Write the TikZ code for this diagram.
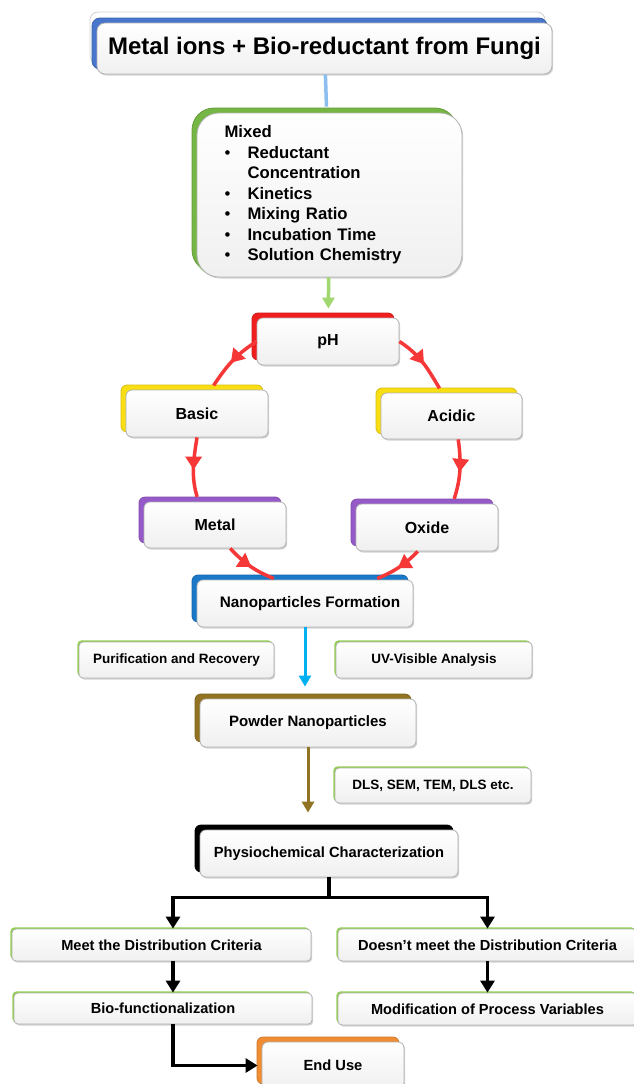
\documentclass[tikz,border=0pt]{standalone}
\usepackage{fontspec}
\setmainfont{Liberation Sans}
\usetikzlibrary{positioning,arrows.meta,shadows,decorations.markings}

\definecolor{titleblue}{RGB}{72,118,204}
\definecolor{linkblue}{RGB}{141,190,240}
\definecolor{mixgreen}{RGB}{118,182,68}
\definecolor{linkgreen}{RGB}{160,215,110}
\definecolor{phred}{RGB}{240,30,30}
\definecolor{arcred}{RGB}{245,55,55}
\definecolor{baseyellow}{RGB}{250,222,20}
\definecolor{oxpurple}{RGB}{150,90,200}
\definecolor{nfblue}{RGB}{25,120,200}
\definecolor{skyblue}{RGB}{0,176,240}
\definecolor{powbrown}{RGB}{145,115,35}
\definecolor{endorange}{RGB}{240,140,50}
\definecolor{tabgreen}{RGB}{146,208,80}

\begin{document}
\begin{tikzpicture}[
  x=1pt, y=1pt,
  stagebox/.style={rectangle, rounded corners=6pt, draw=gray!60, line width=0.8pt,
    top color=white, bottom color=gray!12, inner sep=0pt, align=center,
    font=\bfseries\fontsize{16}{19}\selectfont,
    drop shadow={opacity=0.35, shadow xshift=1.2pt, shadow yshift=-1.5pt},
    copy shadow={shadow xshift=-5pt, shadow yshift=5pt, fill=#1, draw=#1!85!black}},
  notebox/.style={rectangle, rounded corners=4pt, draw=gray!60, line width=0.8pt,
    top color=white, bottom color=gray!12, inner sep=0pt, align=center,
    font=\bfseries\fontsize{13.5}{16}\selectfont,
    drop shadow={opacity=0.35, shadow xshift=1.2pt, shadow yshift=-1.5pt},
    copy shadow={shadow xshift=-1.6pt, shadow yshift=1.6pt, fill=tabgreen, draw=none}},
  flowline/.style={line width=3.5pt},
  flowarrow/.style={line width=3pt, -{Triangle[length=11pt,width=12pt]}},
  blkarrow/.style={line width=3.5pt, -{Triangle[length=12pt,width=14pt]}},
  arcarrow/.style={color=arcred, line width=3.5pt, postaction={decorate},
    decoration={markings, mark=at position 0.5 with {\arrow{Triangle[length=13pt,width=16pt]}}}}
]
  \fill[white] (0,0) rectangle (633,-1084);
  \useasboundingbox (0,0) rectangle (633,-1084);

  % main stages
  \node[copy shadow={shadow xshift=-7pt, shadow yshift=11pt, fill=white, draw=gray!35},
        stagebox=titleblue, rounded corners=8pt, minimum width=455, minimum height=51,
        font=\bfseries\fontsize{24}{28}\selectfont] (title) at (324.5,-48.5)
        {Metal ions + Bio-reductant from Fungi};
  \node[stagebox=mixgreen, copy shadow={shadow xshift=-2pt, shadow yshift=1pt, fill=mixgreen, draw=none},
        rounded corners=22pt, minimum width=265, minimum height=164,
        text width=210, inner xsep=27.5, align=left,
        font=\bfseries\fontsize{16.7}{20.5}\selectfont] (mixed) at (329.5,-195)
        {Mixed\\
         \makebox[23pt][l]{\mdseries\textbullet}Reductant\\
         \hspace*{23pt}Concentration\\
         \makebox[23pt][l]{\mdseries\textbullet}Kinetics\\
         \makebox[23pt][l]{\mdseries\textbullet}Mixing Ratio\\
         \makebox[23pt][l]{\mdseries\textbullet}Incubation Time\\
         \makebox[23pt][l]{\mdseries\textbullet}Solution Chemistry};
  \node[stagebox=phred, minimum width=142, minimum height=47] (ph) at (328,-341.5) {pH};
  \node[stagebox=baseyellow, minimum width=142, minimum height=47] (basic) at (197,-413.5) {Basic};
  \node[stagebox=baseyellow, minimum width=141, minimum height=46] (acidic) at (451.5,-416) {Acidic};
  \node[stagebox=oxpurple, minimum width=142, minimum height=46] (metal) at (215,-525) {Metal};
  \node[stagebox=oxpurple, minimum width=142, minimum height=47] (oxide) at (427,-527.5) {Oxide};
  \node[stagebox=nfblue, minimum width=216, minimum height=47,
        font=\bfseries\fontsize{15.3}{18}\selectfont] (nf) at (305,-603.5) {\hspace*{10pt}Nanoparticles Formation};
  \node[stagebox=powbrown, minimum width=216, minimum height=48,
        font=\bfseries\fontsize{15}{18}\selectfont] (powder) at (308,-723) {Powder Nanoparticles};
  \node[stagebox=black, minimum width=258, minimum height=47,
        font=\bfseries\fontsize{14.7}{18}\selectfont] (physio) at (329,-853.5) {Physiochemical Characterization};
  \node[stagebox=endorange, minimum width=142, minimum height=47,
        font=\bfseries\fontsize{14.7}{18}\selectfont] (endu) at (333,-1065.5) {End Use};

  % side notes and outcomes
  \node[notebox, minimum width=195, minimum height=36] (purif) at (176.5,-660) {Purification and Recovery};
  \node[notebox, minimum width=196, minimum height=36] (uvvis) at (434,-660) {UV-Visible Analysis};
  \node[notebox, minimum width=196, minimum height=35] (dls) at (433,-785.5) {DLS, SEM, TEM, DLS etc.};
  \node[notebox, minimum width=299, minimum height=32,
        font=\bfseries\fontsize{14.6}{17}\selectfont] (meet) at (161.5,-945) {Meet the Distribution Criteria};
  \node[notebox, minimum width=299, minimum height=32,
        font=\bfseries\fontsize{14.6}{17}\selectfont] (doesnt) at (487.5,-945) {Doesn’t meet the Distribution Criteria};
  \node[notebox, minimum width=298, minimum height=31,
        font=\bfseries\fontsize{14.6}{17}\selectfont] (bio) at (163,-1008.5) {Bio-functionalization};
  \node[notebox, minimum width=299, minimum height=32,
        font=\bfseries\fontsize{14.6}{17}\selectfont] (modif) at (487.5,-1009) {Modification of Process Variables};

  % connectors
  \draw[flowline, linkblue, shorten >=6pt] (title) -- (mixed);
  \draw[flowarrow, linkgreen, line width=3.5pt, shorten >=9pt] (mixed) -- (ph);
  \draw[arcarrow, shorten >=5pt] (ph.west) to[out=212, in=56] (basic.60);
  \draw[arcarrow, shorten >=5pt] (basic.south) to[out=261, in=107] (metal.125);
  \draw[arcarrow, shorten >=3pt] (metal.-57) to[out=313, in=158] (nf.140);
  \draw[arcarrow, shorten >=5pt] (ph.east) to[out=-33, in=121] (acidic.112);
  \draw[arcarrow, shorten >=5pt] (acidic.-74) to[out=-82, in=72] (oxide.43);
  \draw[arcarrow, shorten >=3pt] (oxide.249) to[out=225, in=22] (nf.19);
  \draw[flowarrow, skyblue, shorten >=12pt] (nf.south) -- (nf.south |- powder.north);
  \draw[flowarrow, powbrown, shorten >=17pt] (powder.south) -- (powder.south |- physio.north);
  \path (physio.south) ++(0,-20) coordinate (split);
  \draw[line width=3.5pt] (physio.south) -- (split);
  \draw[blkarrow] (split) -| ([xshift=11.5]meet.north);
  \draw[blkarrow] (split) -| (doesnt.north);
  \draw[blkarrow] ([xshift=11.5]meet.south) -- ([xshift=11.5]meet.south |- bio.north);
  \draw[blkarrow] (doesnt.south) -- (modif.north);
  \draw[blkarrow, shorten >=4pt] ([xshift=10]bio.south) |- (endu.west);
\end{tikzpicture}
\end{document}
